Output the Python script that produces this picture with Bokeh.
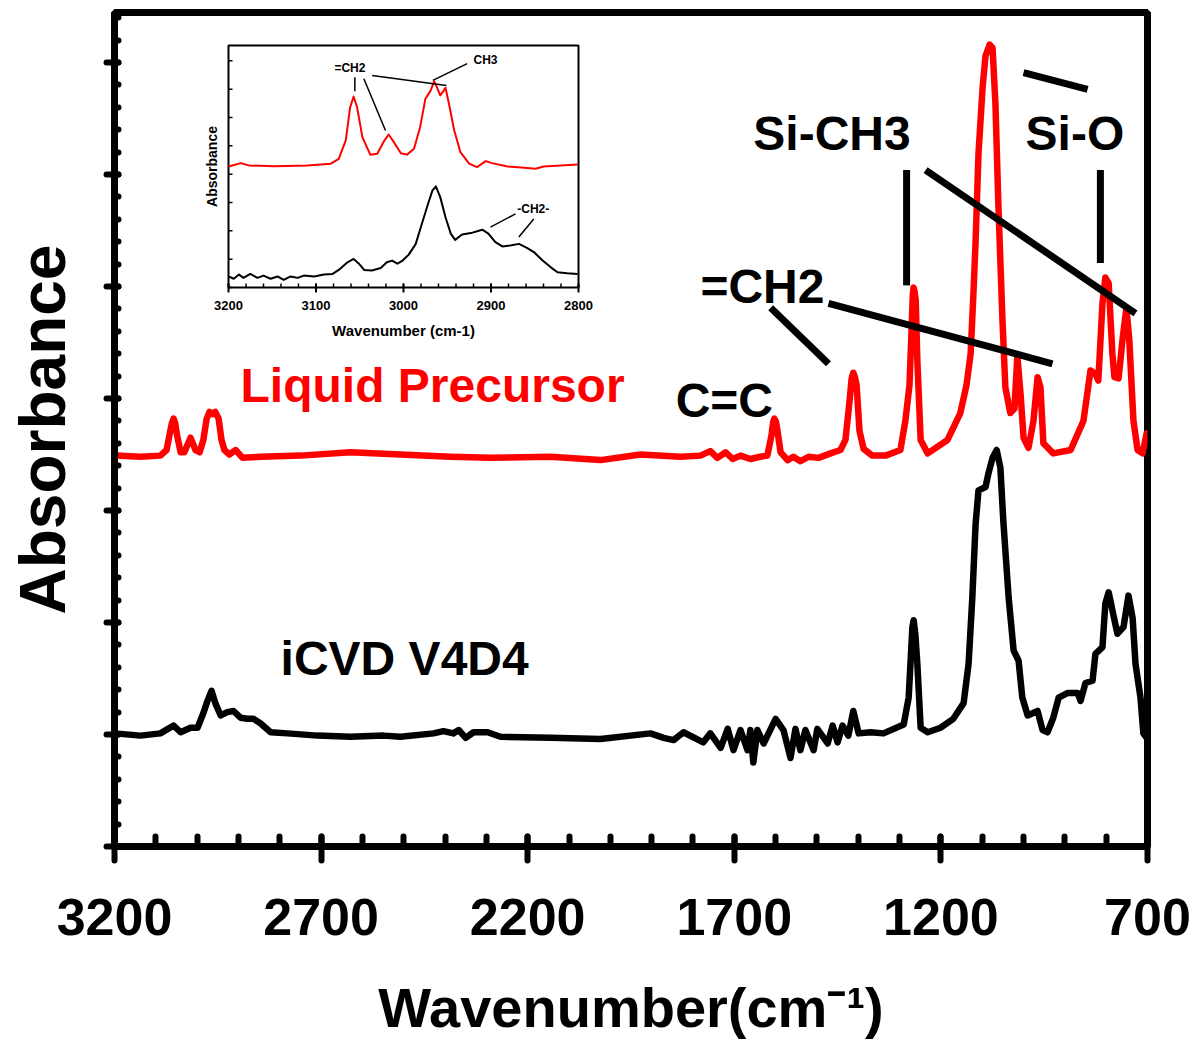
import math
from bokeh.plotting import figure
from bokeh.models import Range1d, FixedTicker
from bokeh.core.properties import value
from bokeh.embed import file_html
from bokeh.resources import INLINE

# ---------------- data: main panel ----------------
red_wn = [3198, 3137, 3089, 3074, 3065, 3061, 3057, 3053, 3050, 3040, 3031, 3016, 3004, 2994, 2985, 2977, 2970, 2963,
          2956, 2948, 2941, 2934, 2922, 2907, 2890, 2847, 2750, 2629, 2508, 2387, 2290, 2145, 2024, 1927, 1830, 1782,
          1758, 1741, 1721, 1704, 1685, 1661, 1637, 1620, 1610, 1606, 1603, 1599, 1595, 1588, 1571, 1557, 1540, 1520,
          1496, 1467, 1443, 1431, 1421, 1416, 1412, 1408, 1404, 1397, 1387, 1366, 1334, 1298, 1286, 1276, 1271, 1268,
          1266, 1264, 1261, 1257, 1249, 1232, 1184, 1153, 1138, 1128, 1121, 1116, 1109, 1099, 1092, 1082, 1075, 1068,
          1061, 1051, 1044, 1032, 1022, 1015, 1007, 1000, 988, 976, 966, 959, 952, 928, 886, 855, 838, 826, 819, 809,
          802, 794, 785, 780, 770, 760, 751, 744, 734, 724, 712, 702]
red_abs = [3.49, 3.48, 3.49, 3.54, 3.71, 3.78, 3.82, 3.78, 3.70, 3.52, 3.52, 3.65, 3.54, 3.52, 3.63, 3.82, 3.88, 3.86,
           3.88, 3.82, 3.63, 3.54, 3.50, 3.54, 3.47, 3.48, 3.49, 3.52, 3.50, 3.48, 3.47, 3.48, 3.45, 3.50, 3.48, 3.49,
           3.53, 3.47, 3.52, 3.46, 3.49, 3.46, 3.48, 3.49, 3.67, 3.79, 3.82, 3.79, 3.70, 3.52, 3.45, 3.48, 3.44, 3.48,
           3.47, 3.51, 3.54, 3.63, 3.98, 4.18, 4.23, 4.19, 4.12, 3.71, 3.55, 3.49, 3.49, 3.54, 3.80, 4.12, 4.61, 4.93,
           4.99, 4.96, 4.88, 4.34, 3.63, 3.51, 3.63, 3.87, 4.12, 4.40, 4.96, 5.41, 6.19, 6.78, 7.06, 7.16, 7.13, 6.63,
           5.74, 4.70, 4.10, 3.87, 3.91, 4.38, 4.03, 3.65, 3.56, 3.80, 4.19, 4.10, 3.60, 3.51, 3.54, 3.80, 4.25, 4.22,
           4.16, 4.85, 5.08, 5.03, 4.40, 4.19, 4.18, 4.54, 4.81, 4.52, 3.80, 3.54, 3.51, 3.69]

black_wn = [3200, 3137, 3089, 3057, 3040, 3016, 2999, 2985, 2975, 2965, 2956, 2943, 2927, 2912, 2895, 2878, 2864, 2847,
            2822, 2781, 2709, 2629, 2549, 2508, 2428, 2404, 2380, 2367, 2350, 2331, 2297, 2266, 2145, 2024, 1903, 1871,
            1847, 1823, 1775, 1758, 1733, 1716, 1702, 1685, 1668, 1661, 1654, 1644, 1629, 1600, 1581, 1564, 1552, 1540,
            1528, 1508, 1499, 1474, 1462, 1450, 1438, 1424, 1412, 1399, 1370, 1339, 1290, 1278, 1269, 1266, 1262, 1257,
            1249, 1232, 1201, 1170, 1145, 1133, 1124, 1116, 1109, 1092, 1085, 1075, 1065, 1056, 1049, 1036, 1024, 1012,
            1003, 990, 966, 954, 942, 928, 915, 894, 869, 862, 850, 833, 826, 809, 802, 794, 785, 773, 758, 746, 736,
            729, 717, 710, 700]
black_abs = [1.01, 0.99, 1.01, 1.08, 1.02, 1.06, 1.06, 1.19, 1.30, 1.39, 1.28, 1.17, 1.20, 1.21, 1.15, 1.14, 1.14, 1.10,
             1.02, 1.01, 0.99, 0.98, 0.99, 0.98, 1.01, 1.03, 1.01, 1.04, 0.97, 1.02, 1.02, 0.98, 0.97, 0.96, 1.01, 0.97,
             0.95, 1.02, 0.93, 1.01, 0.88, 1.05, 0.86, 1.04, 0.86, 1.04, 0.75, 1.04, 0.92, 1.14, 1.04, 0.79, 1.05, 0.86,
             1.04, 0.86, 1.05, 0.92, 1.08, 0.93, 1.08, 0.99, 1.21, 1.01, 1.02, 1.01, 1.09, 1.33, 1.96, 2.02, 1.90, 1.63,
             1.06, 1.02, 1.06, 1.14, 1.28, 1.63, 2.22, 2.88, 3.18, 3.21, 3.33, 3.47, 3.54, 3.38, 2.91, 2.22, 1.75, 1.66,
             1.33, 1.17, 1.21, 1.04, 1.02, 1.15, 1.33, 1.37, 1.37, 1.30, 1.46, 1.48, 1.72, 1.78, 2.17, 2.27, 2.11, 1.90,
             1.96, 2.24, 2.04, 1.63, 1.33, 1.01, 0.96]

x_ticks = [3200, 2700, 2200, 1700, 1200, 700]
x_minor_ticks = list(range(3200, 699, -100))
y_ticks = [0, 1, 2, 3, 4, 5, 6, 7]
y_minor_ticks = [round(i * 0.2, 2) for i in range(0, 38)]

# annotation texts (left edge wavenumber, baseline absorbance) and leader lines
note_text = ["Liquid Precursor", "iCVD V4D4", "C=C", "=CH2", "Si-CH3", "Si-O"]
note_color = ["#ff0000", "black", "black", "black", "black", "black"]
note_x = [2895, 2798, 1842, 1782, 1654, 995]
note_y = [4.12, 1.68, 3.98, 5.00, 6.37, 6.37]
lead_x0 = [1283, 814, 1237, 1000, 1612, 1472]
lead_y0 = [6.04, 6.04, 6.04, 6.91, 4.81, 4.85]
lead_x1 = [1283, 814, 729, 845, 1472, 930]
lead_y1 = [5.01, 5.21, 4.76, 6.76, 4.31, 4.31]

# ---------------- data: inset ----------------
ins_red_wn = [3200, 3186, 3177, 3148, 3110, 3083, 3074, 3066, 3061, 3057, 3053, 3047, 3038, 3030, 3023, 3017, 3011,
              3003, 2996, 2988, 2981, 2975, 2969, 2965, 2961, 2958, 2954, 2952, 2948, 2942, 2935, 2925, 2916, 2906,
              2899, 2881, 2862, 2849, 2840, 2801]
ins_red_abs = [4.27, 4.39, 4.31, 4.28, 4.31, 4.37, 4.54, 5.19, 6.36, 6.74, 6.36, 5.31, 4.69, 4.72, 5.13, 5.40, 5.13,
               4.74, 4.69, 4.90, 5.66, 6.66, 6.95, 7.28, 7.01, 6.78, 6.95, 7.05, 6.48, 5.54, 4.78, 4.37, 4.25, 4.46,
               4.39, 4.27, 4.23, 4.19, 4.27, 4.34]
ins_black_wn = [3200, 3194, 3188, 3183, 3175, 3167, 3160, 3152, 3144, 3137, 3129, 3121, 3114, 3102, 3091, 3081, 3074,
                3064, 3057, 3051, 3045, 3036, 3026, 3019, 3013, 3007, 3001, 2994, 2986, 2979, 2972, 2967, 2963, 2958,
                2952, 2946, 2941, 2933, 2923, 2910, 2903, 2895, 2887, 2878, 2868, 2859, 2851, 2841, 2832, 2824, 2813,
                2801]
ins_black_abs = [0.39, 0.31, 0.46, 0.34, 0.48, 0.34, 0.42, 0.31, 0.39, 0.27, 0.39, 0.34, 0.42, 0.39, 0.46, 0.48, 0.62,
                 0.89, 1.01, 0.84, 0.62, 0.60, 0.69, 0.89, 0.95, 0.84, 0.95, 1.16, 1.54, 2.25, 2.95, 3.42, 3.57, 3.19,
                 2.48, 1.90, 1.68, 1.87, 1.92, 2.04, 1.90, 1.60, 1.45, 1.48, 1.54, 1.40, 1.25, 0.95, 0.72, 0.54, 0.50,
                 0.48]
ins_x_ticks = [3200, 3100, 3000, 2900, 2800]
ins_x_tick_labels = ["3200", "3100", "3000", "2900", "2800"]
ins_x_minor = list(range(3200, 2799, -20))
ins_y_ticks = [0, 1, 2, 3, 4, 5, 6, 7, 8]
ins_note_text = ["=CH2", "CH3", "-CH2-"]
ins_note_x = [3079, 2920, 2870]
ins_note_y = [7.75, 8.03, 2.77]
ins_lead_x0 = [3055.6, 3045.3, 3035.8, 2966.5, 2900.6, 2868.2]
ins_lead_y0 = [7.42, 7.37, 7.48, 7.31, 2.13, 1.78]
ins_lead_x1 = [3055.6, 3020.6, 2950.9, 2927.2, 2872.0, 2851.1]
ins_lead_y1 = [6.93, 5.54, 7.13, 7.90, 2.60, 2.42]

# ---------------- layout ----------------
FRAME_L, FRAME_T, FRAME_W, FRAME_H = 114, 12, 1033, 834
PX_PER_UNIT = 112.0
Y_TOP = FRAME_H / PX_PER_UNIT

INS_L, INS_T, INS_W, INS_H = 228, 45, 350, 242
INS_PX_PER_UNIT = 28.33
ix_pp = 400.0 / INS_W
iy_pp = 1.0 / INS_PX_PER_UNIT
ins_top = INS_H * iy_pp
ix_start = 3200 + (INS_L - FRAME_L) * ix_pp
ix_end = ix_start - FRAME_W * ix_pp
iy_end = ins_top + (INS_T - FRAME_T) * iy_pp
iy_start = iy_end - FRAME_H * iy_pp

p = figure(frame_width=FRAME_W, frame_height=FRAME_H,
           x_range=Range1d(3200, 700), y_range=Range1d(0, Y_TOP),
           output_backend="svg", toolbar_location=None,
           min_border_left=FRAME_L, min_border_top=FRAME_T,
           min_border_right=46, min_border_bottom=190)
p.extra_x_ranges = {"ix": Range1d(ix_start, ix_end)}
p.extra_y_ranges = {"iy": Range1d(iy_start, iy_end)}

p.xgrid.visible = False
p.ygrid.visible = False
p.outline_line_color = "black"
p.outline_line_width = 7
p.background_fill_color = "white"
p.border_fill_color = "white"

SANS = "Liberation Sans"

xa = p.xaxis[0]
xa.ticker = FixedTicker(ticks=x_ticks, minor_ticks=x_minor_ticks)
xa.axis_line_width = 7
xa.major_tick_line_width = 6
xa.minor_tick_line_width = 6
xa.major_tick_line_cap = "round"
xa.minor_tick_line_cap = "round"
xa.major_tick_in = 10
xa.major_tick_out = 14
xa.minor_tick_in = 10
xa.minor_tick_out = 0
xa.major_label_text_font = SANS
xa.major_label_text_font_style = "bold"
xa.major_label_text_font_size = "52px"
xa.major_label_text_color = "black"
xa.major_label_standoff = 38
xa.axis_label = "Wavenumber(cm\u207b\u00b9)"
xa.axis_label_text_font = SANS
xa.axis_label_text_font_style = "bold"
xa.axis_label_text_font_size = "56px"
xa.axis_label_text_color = "black"
xa.axis_label_standoff = 38

ya = p.yaxis[0]
ya.ticker = FixedTicker(ticks=y_ticks, minor_ticks=y_minor_ticks)
ya.axis_line_width = 7
ya.major_tick_line_width = 6
ya.minor_tick_line_width = 6
ya.major_tick_line_cap = "round"
ya.minor_tick_line_cap = "round"
ya.major_tick_in = 4
ya.major_tick_out = 8
ya.minor_tick_in = 4
ya.minor_tick_out = 0
ya.major_label_text_font_size = "0px"
ya.major_label_text_color = None
ya.major_label_standoff = 0
ya.axis_label = "Absorbance"
ya.axis_label_text_font = SANS
ya.axis_label_text_font_style = "bold"
ya.axis_label_text_font_size = "64px"
ya.axis_label_text_color = "black"
ya.axis_label_standoff = 28

# main spectra
p.line(black_wn, black_abs, line_color="black", line_width=6.5, line_join="round", line_cap="round")
p.line(red_wn, red_abs, line_color="#ff0000", line_width=6.5, line_join="round", line_cap="round")

# leader lines and labels
p.segment(x0=lead_x0, y0=lead_y0, x1=lead_x1, y1=lead_y1, line_color="black", line_width=7)
p.text(x=note_x, y=note_y, text=note_text, text_color=note_color,
       text_font=value(SANS), text_font_style="bold", text_font_size="48px",
       text_align="left", text_baseline="alphabetic")

# ---------------- inset ----------------
R = dict(x_range_name="ix", y_range_name="iy")
p.quad(left=[3200], right=[2800], bottom=[0], top=[ins_top], fill_color="white",
       line_color="black", line_width=2, **R)

maj_out, maj_in, min_in = 5 * iy_pp, 4 * iy_pp, 4 * iy_pp
p.segment(x0=ins_x_ticks, x1=ins_x_ticks, y0=[-maj_out] * len(ins_x_ticks), y1=[maj_in] * len(ins_x_ticks),
          line_color="black", line_width=2, **R)
p.segment(x0=ins_x_minor, x1=ins_x_minor, y0=[0] * len(ins_x_minor), y1=[min_in] * len(ins_x_minor),
          line_color="black", line_width=1.5, **R)
p.segment(x0=[3200] * len(ins_y_ticks), x1=[3200 - 4 * ix_pp] * len(ins_y_ticks),
          y0=ins_y_ticks, y1=ins_y_ticks, line_color="black", line_width=1.5, **R)

p.line(ins_black_wn, ins_black_abs, line_color="black", line_width=2, line_join="round", **R)
p.line(ins_red_wn, ins_red_abs, line_color="#ff0000", line_width=2, line_join="round", **R)
p.segment(x0=ins_lead_x0, y0=ins_lead_y0, x1=ins_lead_x1, y1=ins_lead_y1, line_color="black", line_width=1.5, **R)
p.text(x=ins_note_x, y=ins_note_y, text=ins_note_text, text_color="black",
       text_font=value(SANS), text_font_style="bold", text_font_size="12px",
       text_align="left", text_baseline="alphabetic", **R)

p.text(x=ins_x_ticks, y=[-18 * iy_pp] * len(ins_x_ticks), text=ins_x_tick_labels, text_color="black",
       text_font=value(SANS), text_font_style="bold", text_font_size="13px",
       text_align="center", text_baseline="alphabetic", **R)
p.text(x=[3000], y=[-43 * iy_pp], text=["Wavenumber (cm-1)"], text_color="black",
       text_font=value(SANS), text_font_style="bold", text_font_size="15px",
       text_align="center", text_baseline="alphabetic", **R)
p.text(x=[3200 + 17 * ix_pp], y=[ins_top / 2.0], text=["Absorbance"], text_color="black",
       angle=math.pi / 2, text_font=value(SANS), text_font_style="bold", text_font_size="14px",
       text_align="center", text_baseline="middle", **R)

open("out.html", "w").write(file_html(p, INLINE))
